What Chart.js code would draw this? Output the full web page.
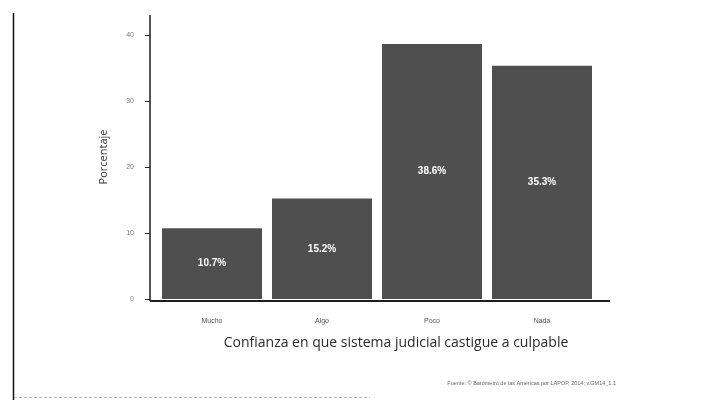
<!DOCTYPE html>
<html>
<head>
<meta charset="utf-8">
<script src="https://cdn.jsdelivr.net/npm/chart.js@4"></script>
<style>
html,body{margin:0;padding:0;background:#fff;}
#wrap{width:702px;height:400px;position:relative;}
</style>
</head>
<body>
<div id="wrap"><canvas id="c" width="702" height="400"></canvas></div>
<script>
const categories = ['Mucho', 'Algo', 'Poco', 'Nada'];
const values = [10.7, 15.2, 38.6, 35.3];
const yTicks = [0, 10, 20, 30, 40];
const yTitle = 'Porcentaje';
const xTitle = 'Confianza en que sistema judicial castigue a culpable';
const sourceText = 'Fuente: © Barómetro de las Américas por LAPOP, 2014; v.GM14_1.1';

const decor = {
  id: 'decor',
  afterDatasetsDraw(chart) {
    const ctx = chart.ctx;
    const meta = chart.getDatasetMeta(0);
    ctx.save();
    ctx.fillStyle = '#ffffff';
    ctx.font = 'bold 10px "Liberation Sans", Arial, sans-serif';
    ctx.textAlign = 'center';
    ctx.textBaseline = 'middle';
    meta.data.forEach((bar, i) => {
      const p = bar.getProps(['x', 'y', 'base'], true);
      ctx.fillText(values[i].toFixed(1) + '%', p.x, (p.y + p.base) / 2);
    });
    ctx.restore();
  },
  afterDraw(chart) {
    const ctx = chart.ctx;
    const ys = chart.scales.y;
    const area = chart.chartArea;
    const axisX = area.left - 7;
    const zeroY = ys.getPixelForValue(0);
    ctx.save();
    ctx.strokeStyle = '#1e1e1e';
    ctx.lineWidth = 1.5;
    ctx.beginPath();
    ctx.moveTo(axisX, ys.getPixelForValue(ys.max));
    ctx.lineTo(axisX, zeroY + 2);
    ctx.stroke();
    ctx.lineWidth = 1;
    yTicks.forEach(v => {
      const y = Math.round(ys.getPixelForValue(v)) + 0.5;
      ctx.beginPath();
      ctx.moveTo(axisX - 5, y);
      ctx.lineTo(axisX, y);
      ctx.stroke();
    });
    ctx.lineWidth = 2;
    ctx.beginPath();
    ctx.moveTo(axisX, zeroY + 2);
    ctx.lineTo(area.right + 13, zeroY + 2);
    ctx.stroke();
    ctx.fillStyle = '#2a2a2a';
    ctx.font = '14px "Open Sans", sans-serif';
    ctx.textAlign = 'center';
    ctx.textBaseline = 'middle';
    ctx.fillText(xTitle, 396, 343);
    ctx.fillStyle = '#666';
    ctx.font = '5.5px "Liberation Sans", sans-serif';
    ctx.textAlign = 'right';
    ctx.fillText(sourceText, 616, 383);
    ctx.strokeStyle = '#111';
    ctx.lineWidth = 1.5;
    ctx.beginPath();
    ctx.moveTo(13.5, 13);
    ctx.lineTo(13.5, 400);
    ctx.stroke();
    ctx.strokeStyle = '#bbb';
    ctx.lineWidth = 1;
    ctx.setLineDash([3, 2]);
    ctx.beginPath();
    ctx.moveTo(14, 397.5);
    ctx.lineTo(370, 397.5);
    ctx.stroke();
    ctx.restore();
  }
};

new Chart(document.getElementById('c'), {
  type: 'bar',
  data: {
    labels: categories,
    datasets: [{
      data: values,
      backgroundColor: '#4f4f4f',
      borderWidth: 0,
      barPercentage: 100 / 110,
      categoryPercentage: 1.0
    }]
  },
  options: {
    responsive: false,
    animation: false,
    devicePixelRatio: 1,
    layout: { padding: { left: 97, right: 105, top: 15, bottom: 0 } },
    plugins: { legend: { display: false }, tooltip: { enabled: false } },
    scales: {
      x: {
        grid: { display: false, drawTicks: false },
        border: { display: false },
        ticks: {
          padding: 18,
          color: '#555',
          font: { size: 7, family: '"Liberation Sans", sans-serif' }
        },
        afterFit(scale) { scale.height = 101; }
      },
      y: {
        min: 0,
        max: 43,
        grid: { display: false, drawTicks: true, tickLength: 20 },
        border: { display: false },
        afterBuildTicks(scale) {
          scale.ticks = yTicks.map(v => ({ value: v }));
        },
        ticks: {
          padding: 3,
          color: '#777',
          font: { size: 7, family: '"Liberation Sans", sans-serif' },
          callback: v => String(v)
        },
        title: {
          display: true,
          text: yTitle,
          color: '#333',
          padding: { top: 0, bottom: 0 },
          font: { size: 11, family: '"Open Sans", sans-serif' }
        },
        afterFit(scale) { scale.width = 60; }
      }
    }
  },
  plugins: [decor]
});
</script>
</body>
</html>
